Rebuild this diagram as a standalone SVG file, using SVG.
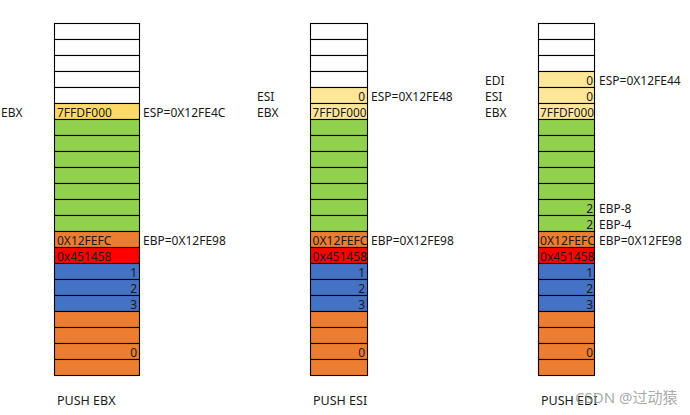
<svg xmlns="http://www.w3.org/2000/svg" width="690" height="415" viewBox="0 0 690 415">
<style>
  .c { stroke: #000; stroke-width: 1.1; }
  .w { fill: #ffffff; }
  .y1 { fill: #FFD966; }
  .y2 { fill: #FFE699; }
  .g { fill: #92D050; }
  .o { fill: #ED7D31; }
  .r { fill: #FF0000; }
  .b { fill: #4472C4; }
  text { font-family: "Noto Sans", "DejaVu Sans", sans-serif; font-size: 12px; fill: #1a1a1a; }
  .rt { text-anchor: end; }
  .cap { font-size: 12.5px; }
  .wm { font-size: 15px; fill: #9a9a9a; fill-opacity: 0.85; font-family: "Noto Sans", "Noto Sans CJK SC", sans-serif; }
</style>
<rect width="690" height="415" fill="#fff"/>

<!-- Stack 1: PUSH EBX -->
<g id="stack-push-ebx">
  <g transform="translate(54.5,23.5)">
    <rect class="c w" x="0" y="0" width="85" height="16"/>
    <rect class="c w" x="0" y="16" width="85" height="16"/>
    <rect class="c w" x="0" y="32" width="85" height="16"/>
    <rect class="c w" x="0" y="48" width="85" height="16"/>
    <rect class="c w" x="0" y="64" width="85" height="16"/>
    <rect class="c y1" x="0" y="80" width="85" height="16"/>
    <rect class="c g" x="0" y="96" width="85" height="16"/>
    <rect class="c g" x="0" y="112" width="85" height="16"/>
    <rect class="c g" x="0" y="128" width="85" height="16"/>
    <rect class="c g" x="0" y="144" width="85" height="16"/>
    <rect class="c g" x="0" y="160" width="85" height="16"/>
    <rect class="c g" x="0" y="176" width="85" height="16"/>
    <rect class="c g" x="0" y="192" width="85" height="16"/>
    <rect class="c o" x="0" y="208" width="85" height="16"/>
    <rect class="c r" x="0" y="224" width="85" height="16"/>
    <rect class="c b" x="0" y="240" width="85" height="16"/>
    <rect class="c b" x="0" y="256" width="85" height="16"/>
    <rect class="c b" x="0" y="272" width="85" height="16"/>
    <rect class="c o" x="0" y="288" width="85" height="16"/>
    <rect class="c o" x="0" y="304" width="85" height="16"/>
    <rect class="c o" x="0" y="320" width="85" height="16"/>
    <rect class="c o" x="0" y="336" width="85" height="16"/>
  </g>
  <text x="1" y="116.7">EBX</text>
  <text x="57" y="116.7">7FFDF000</text>
  <text x="143" y="116.7">ESP=0X12FE4C</text>
  <text x="57" y="244.7">0X12FEFC</text>
  <text x="143" y="244.7">EBP=0X12FE98</text>
  <text x="57" y="260.7">0x451458</text>
  <text class="rt" x="137" y="276.7">1</text>
  <text class="rt" x="137" y="292.7">2</text>
  <text class="rt" x="137" y="308.7">3</text>
  <text class="rt" x="137" y="356.7">0</text>
  <text class="cap" x="57" y="405">PUSH EBX</text>
</g>

<!-- Stack 2: PUSH ESI -->
<g id="stack-push-esi">
  <g transform="translate(310.5,23.5)">
    <rect class="c w" x="0" y="0" width="57" height="16"/>
    <rect class="c w" x="0" y="16" width="57" height="16"/>
    <rect class="c w" x="0" y="32" width="57" height="16"/>
    <rect class="c w" x="0" y="48" width="57" height="16"/>
    <rect class="c y2" x="0" y="64" width="57" height="16"/>
    <rect class="c y2" x="0" y="80" width="57" height="16"/>
    <rect class="c g" x="0" y="96" width="57" height="16"/>
    <rect class="c g" x="0" y="112" width="57" height="16"/>
    <rect class="c g" x="0" y="128" width="57" height="16"/>
    <rect class="c g" x="0" y="144" width="57" height="16"/>
    <rect class="c g" x="0" y="160" width="57" height="16"/>
    <rect class="c g" x="0" y="176" width="57" height="16"/>
    <rect class="c g" x="0" y="192" width="57" height="16"/>
    <rect class="c o" x="0" y="208" width="57" height="16"/>
    <rect class="c r" x="0" y="224" width="57" height="16"/>
    <rect class="c b" x="0" y="240" width="57" height="16"/>
    <rect class="c b" x="0" y="256" width="57" height="16"/>
    <rect class="c b" x="0" y="272" width="57" height="16"/>
    <rect class="c o" x="0" y="288" width="57" height="16"/>
    <rect class="c o" x="0" y="304" width="57" height="16"/>
    <rect class="c o" x="0" y="320" width="57" height="16"/>
    <rect class="c o" x="0" y="336" width="57" height="16"/>
  </g>
  <text x="257" y="100.7">ESI</text>
  <text class="rt" x="365" y="100.7">0</text>
  <text x="371" y="100.7">ESP=0X12FE48</text>
  <text x="257" y="116.7">EBX</text>
  <text x="312.5" y="116.7" textLength="54" lengthAdjust="spacingAndGlyphs">7FFDF000</text>
  <text x="312.5" y="244.7" textLength="55" lengthAdjust="spacingAndGlyphs">0X12FEFC</text>
  <text x="371" y="244.7">EBP=0X12FE98</text>
  <text x="312.5" y="260.7" textLength="54.5" lengthAdjust="spacingAndGlyphs">0x451458</text>
  <text class="rt" x="365" y="276.7">1</text>
  <text class="rt" x="365" y="292.7">2</text>
  <text class="rt" x="365" y="308.7">3</text>
  <text class="rt" x="365" y="356.7">0</text>
  <text class="cap" x="313" y="405">PUSH ESI</text>
</g>

<!-- Stack 3: PUSH EDI -->
<g id="stack-push-edi">
  <g transform="translate(538.5,23.5)">
    <rect class="c w" x="0" y="0" width="56" height="16"/>
    <rect class="c w" x="0" y="16" width="56" height="16"/>
    <rect class="c w" x="0" y="32" width="56" height="16"/>
    <rect class="c y2" x="0" y="48" width="56" height="16"/>
    <rect class="c y2" x="0" y="64" width="56" height="16"/>
    <rect class="c y2" x="0" y="80" width="56" height="16"/>
    <rect class="c g" x="0" y="96" width="56" height="16"/>
    <rect class="c g" x="0" y="112" width="56" height="16"/>
    <rect class="c g" x="0" y="128" width="56" height="16"/>
    <rect class="c g" x="0" y="144" width="56" height="16"/>
    <rect class="c g" x="0" y="160" width="56" height="16"/>
    <rect class="c g" x="0" y="176" width="56" height="16"/>
    <rect class="c g" x="0" y="192" width="56" height="16"/>
    <rect class="c o" x="0" y="208" width="56" height="16"/>
    <rect class="c r" x="0" y="224" width="56" height="16"/>
    <rect class="c b" x="0" y="240" width="56" height="16"/>
    <rect class="c b" x="0" y="256" width="56" height="16"/>
    <rect class="c b" x="0" y="272" width="56" height="16"/>
    <rect class="c o" x="0" y="288" width="56" height="16"/>
    <rect class="c o" x="0" y="304" width="56" height="16"/>
    <rect class="c o" x="0" y="320" width="56" height="16"/>
    <rect class="c o" x="0" y="336" width="56" height="16"/>
  </g>
  <text x="485" y="84.7">EDI</text>
  <text class="rt" x="593" y="84.7">0</text>
  <text x="599" y="84.7">ESP=0X12FE44</text>
  <text x="485" y="100.7">ESI</text>
  <text class="rt" x="593" y="100.7">0</text>
  <text x="485" y="116.7">EBX</text>
  <text x="540" y="116.7" textLength="54" lengthAdjust="spacingAndGlyphs">7FFDF000</text>
  <text class="rt" x="593" y="212.7">2</text>
  <text x="599" y="212.7">EBP-8</text>
  <text class="rt" x="593" y="228.7">2</text>
  <text x="599" y="228.7">EBP-4</text>
  <text x="540" y="244.7" textLength="55" lengthAdjust="spacingAndGlyphs">0X12FEFC</text>
  <text x="599" y="244.7">EBP=0X12FE98</text>
  <text x="540" y="260.7" textLength="54.5" lengthAdjust="spacingAndGlyphs">0x451458</text>
  <text class="rt" x="593" y="276.7">1</text>
  <text class="rt" x="593" y="292.7">2</text>
  <text class="rt" x="593" y="308.7">3</text>
  <text class="rt" x="593" y="356.7">0</text>
  <text class="cap" x="541" y="405">PUSH EDI</text>
</g>

<text class="wm" x="575" y="403">CSDN @过动猿</text>
</svg>
